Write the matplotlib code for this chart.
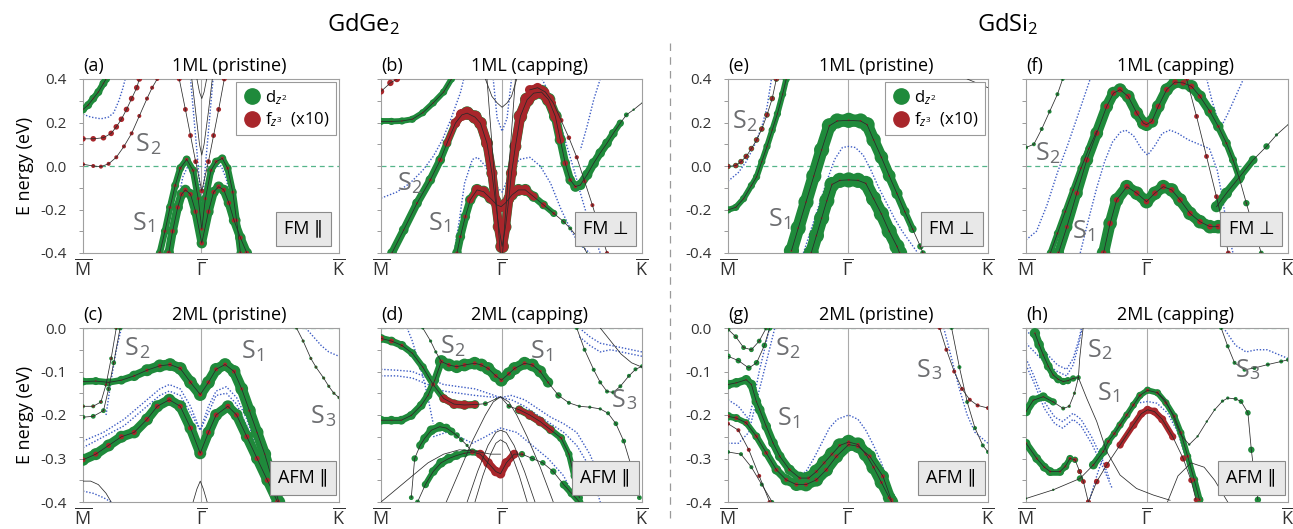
import numpy as np
import matplotlib.pyplot as plt
from matplotlib.lines import Line2D
from matplotlib.collections import LineCollection

plt.rcParams['font.family'] = ['Open Sans', 'DejaVu Sans']
plt.rcParams['mathtext.fontset'] = 'custom'
plt.rcParams['mathtext.rm'] = 'Open Sans'
plt.rcParams['mathtext.it'] = 'Open Sans:italic'
plt.rcParams['mathtext.bf'] = 'Open Sans:bold'

GAMMA = 0.462   # position of Gamma on the M-Gamma-K path (fraction)

# ---- band data: (k, E, d_z2 weight, f_z3 weight) -------------------------
# (a) GdGe2 1ML pristine
A_BANDS = [
    ([0, .02, .04, .06, .08, .09], [.26, .28, .31, .34, .38, .40], .5, .1),
    ([0, .04, .08, .11, .13, .15, .17, .19, .21, .22],
     [.125, .125, .13, .15, .18, .215, .26, .31, .36, .40], 0, .35),
    ([0, .04, .07, .10, .13, .16, .19, .22, .25, .27, .29],
     [.008, 0, -.003, .01, .04, .09, .15, .23, .31, .36, .40], 0, .25),
    ([.376, .40, .42, .44, .464, .49, .51, .53, .552],
     [.40, .26, .14, .02, -.115, .02, .14, .26, .40], 0, .3),
    ([.30, .32, .34, .36, .38, .405, .43, .45, .464, .478, .50, .52, .544, .565, .585, .60, .615],
     [-.40, -.30, -.19, -.09, -.01, .03, -.02, -.15, -.29, -.15, -.02, .02, .035, -.01, -.12, -.25, -.40],
     .5, .2),
    ([.335, .35, .37, .385, .40, .42, .44, .464, .49, .51, .53, .55, .57, .59, .615, .64],
     [-.40, -.30, -.19, -.13, -.11, -.13, -.21, -.355, -.21, -.12, -.095, -.11, -.17, -.25, -.33, -.40],
     .65, .28),
]
A_BLUE = [
    ([0, .03, .07, .10, .12, .14, .155, .165], [.238, .225, .217, .225, .245, .30, .355, .40]),
    ([.42, .435, .45, .464, .478, .493, .508], [.40, .20, 0, -.2, 0, .2, .40]),
    ([.345, .37, .39, .41, .43, .45, .464, .48, .50, .52, .54, .56, .58, .60, .63],
     [-.40, -.17, -.05, 0, -.06, -.2, -.27, -.2, -.06, 0, 0, -.06, -.17, -.28, -.40]),
]
A_BLACK = [
    ([.425, .44, .455, .464, .473, .49, .505], [.40, .25, .10, .05, .10, .25, .40]),
    ([.445, .455, .464, .473, .483], [.40, .34, .31, .34, .40]),
]

# (b) GdGe2 1ML capping
B_BANDS = [
    ([0, .036, .061], [.343, .382, .40], 0, .4),
    ([0, .04, .08, .12, .16, .20, .24, .27], [.205, .205, .207, .215, .245, .29, .34, .40], .45, .1),
    ([.042, .087, .138, .189, .227, .253, .285, .31, .33, .36, .381, .406, .425, .438, .451, .464,
      .477, .49, .50, .515, .534, .56, .585, .615, .642, .668, .687, .706, .725, .745, .764, .79,
      .815, .84, .866, .89, .917, .94, .968, 1.0],
     [-.40, -.294, -.171, -.064, .028, .105, .197, .235, .243, .225, .197, .105, -.033, -.156, -.279, -.37,
      -.28, -.15, -.033, .09, .228, .305, .335, .34, .305, .228, .12, .013, -.064, -.095, -.087, -.04,
      .013, .06, .105, .15, .197, .235, .259, .29],
     [.6, .6, .6, .6, .6, .55, .6, .7, .85, .85, .8, .75, .7, .7, .75, .85, .75, .7, .7, .75,
      .85, .9, .9, .9, .85, .8, .7, .6, .6, .65, .65, .65, .65, .6, .6, .55, .45, .3, .15, .05],
     [.1, .1, .15, .2, .3, .45, .6, .75, .8, .8, .75, .7, .65, .65, .7, .8, .7, .65, .65, .7,
      .8, .85, .85, .8, .75, .65, .5, .35, .25, .2, .1, .05, 0, 0, 0, 0, 0, 0, 0, 0]),
    ([.57, .60, .63, .66, .69, .72, .75, .78, .81, .84, .866],
     [.35, .36, .34, .29, .21, .13, .04, -.07, -.18, -.30, -.40],
     0, [.6, .6, .5, .35, .3, .28, .26, .25, .25, .25, .25]),
    ([.291, .304, .323, .342, .368, .393, .419, .444, .46, .476, .502, .527, .553, .585, .623, .662,
      .70, .725, .751, .776, .789],
     [-.40, -.325, -.233, -.156, -.11, -.118, -.148, -.179, -.187, -.171, -.133, -.11, -.11, -.141,
      -.179, -.218, -.256, -.287, -.325, -.371, -.40],
     [.6, .6, .6, .65, .75, .75, .7, .65, .7, .65, .7, .75, .75, .65, .55, .45, .35, .25, .15, .1, .1],
     [.2, .2, .25, .45, .65, .65, .6, .6, .65, .6, .6, .65, .65, .5, .35, .2, .1, .05, 0, 0, 0]),
]
B_BLUE = [
    ([0, .06, .11, .16, .20, .235, .266, .29, .304, .317],
     [-.148, -.12, -.08, -.02, .044, .12, .21, .29, .336, .40]),
    ([.43, .445, .464, .483, .50], [.40, .22, .16, .22, .40]),
    ([.28, .30, .32, .35, .37, .40, .43, .464, .50, .53, .57, .61, .65, .69, .73, .76, .80],
     [-.40, -.25, -.08, .03, .04, 0, -.08, -.12, -.02, .03, .04, 0, -.08, -.20, -.30, -.36, -.40]),
    ([.617, .65, .68, .71, .74, .77, .80, .84], [.40, .32, .22, .10, -.02, -.15, -.27, -.40]),
    ([.84, .815, .789, .764], [.40, .305, .18, .074]),
]
B_BLACK = [
    ([.40, .425, .445, .464, .483, .50, .52], [.40, .32, .29, .27, .29, .32, .40]),
    ([.406, .457], [.40, -.40]),
    ([.515, .466], [.40, -.40]),
]

# (e) GdSi2 1ML pristine
E_BANDS = [
    ([0, .03, .05, .07, .09, .11, .13, .15, .17, .186],
     [-.002, .002, .02, .044, .08, .12, .17, .235, .31, .40], .35, .3),
    ([0, .03, .06, .09, .11, .13, .15, .17, .19, .21, .224],
     [-.202, -.19, -.15, -.09, -.05, .02, .09, .165, .24, .33, .40], .45, .1),
    ([.244, .27, .30, .33, .36, .39, .42, .464, .51, .535, .56, .59, .62, .65, .68, .71, .74, .75],
     [-.39, -.286, -.166, -.046, .074, .185, .207, .21, .207, .19, .12, .04, -.045, -.127, -.21, -.29, -.37, -.40],
     [.95, .95, .95, .95, .95, .95, .95, .95, .95, .95, .9, .85, .8, .7, .6, .5, .4, .35], .12),
    ([.32, .34, .36, .38, .40, .43, .464, .50, .53, .56, .59, .62, .65, .66],
     [-.40, -.32, -.24, -.16, -.085, -.066, -.064, -.066, -.08, -.15, -.22, -.30, -.37, -.40], .95, .12),
]
E_BLUE = [
    ([0, .04, .07, .10, .13, .15, .167], [-.07, -.03, .02, .09, .18, .27, .40]),
    ([.29, .32, .35, .38, .41, .44, .464, .49, .52, .55, .58, .61, .64, .67, .70, .73],
     [-.40, -.29, -.18, -.07, .03, .085, .09, .085, .05, -.02, -.10, -.17, -.24, -.30, -.35, -.40]),
]
E_BLACK = [
    ([.92, .96, 1.0], [.40, .38, .36]),
]

# (f) GdSi2 1ML capping
F_BANDS = [
    ([0, .03, .06, .09, .12, .14], [.085, .10, .17, .25, .33, .40], .25, .05),
    ([.124, .156, .194, .232, .27, .308, .334, .359, .39, .423, .448, .46, .48, .505, .537, .569, .60,
      .632, .664, .702, .734, .765, .79, .816, .841, .867, .898],
     [-.40, -.28, -.125, .028, .151, .274, .335, .351, .32, .243, .197, .19, .205, .274, .351, .386, .382,
      .366, .32, .251, .182, .105, .028, -.064, -.171, -.279, -.40],
     [.7, .7, .75, .8, .8, .8, .8, .8, .8, .8, .8, .8, .8, .8, .8, .8, .8,
      .8, .75, .7, .65, .55, .5, .45, .4, .35, .3],
     [.2, .25, .3, .35, .35, .35, .35, .35, .35, .35, .35, .35, .35, .35, .35, .35, .35,
      .35, .3, .25, .2, .15, .1, .1, .1, .1, .1]),
    ([.093, .12, .15, .18, .21, .24, .27], [-.40, -.31, -.21, -.11, -.01, .08, .16], .45, .15),
    ([.296, .321, .346, .385, .423, .46, .492, .524, .556, .588, .626, .664, .702, .734],
     [-.40, -.264, -.156, -.095, -.125, -.164, -.125, -.095, -.11, -.156, -.218, -.256, -.279, -.279], .85, .35),
    ([.727, .765, .816, .867, .918, .956, 1.0], [-.187, -.125, -.049, .028, .09, .143, .19],
     [.7, .7, .65, .55, .4, .2, .05], 0),
    ([.613, .651, .689, .727, .753, .772], [.40, .228, .044, -.141, -.279, -.40], 0, .3),
]
F_BLUE = [
    ([0, .04, .08, .12, .16, .20, .245], [-.34, -.30, -.18, -.03, .10, .24, .40]),
    ([.207, .24, .27, .30, .33, .36, .38, .41, .44, .464, .49, .52, .55, .58, .62, .66, .70, .73, .75, .77, .79],
     [-.40, -.24, -.10, .02, .11, .155, .165, .14, .08, .05, .09, .15, .165, .15, .12, .10, .08, -.02, -.15, -.30, -.40]),
    ([.69, .71, .73, .745, .77, .80, .83], [.40, .30, .22, .18, .24, .32, .40]),
]
F_BLACK = []

# (c) GdGe2 2ML pristine
C_BANDS = [
    ([0, .05, .10, .15, .20, .25, .30, .34, .38, .42, .458, .49, .52, .555, .59, .62, .65, .68, .71, .74, .765],
     [-.123, -.122, -.125, -.12, -.11, -.097, -.087, -.084, -.093, -.125, -.153, -.125, -.095, -.084, -.10,
      -.14, -.19, -.24, -.29, -.35, -.40],
     [.5, .5, .5, .55, .65, .75, .8, .8, .8, .8, .8, .8, .8, .8, .8, .8, .8, .8, .8, .8, .8],
     [.1, .1, .1, .1, .15, .2, .25, .25, .25, .25, .25, .25, .25, .25, .25, .2, .15, .1, .1, .1, .1]),
    ([0, .05, .10, .15, .20, .25, .29, .337, .38, .42, .458, .49, .52, .566, .60, .64, .68, .72, .76],
     [-.303, -.29, -.27, -.25, -.24, -.21, -.18, -.165, -.18, -.23, -.288, -.24, -.20, -.18, -.20, -.25,
      -.30, -.35, -.40], .75, .32),
    ([0, .04, .07, .09, .11, .13], [-.18, -.18, -.17, -.13, -.07, 0], .25, .15),
    ([0, .04, .08, .10, .12, .145], [-.205, -.203, -.19, -.14, -.08, 0], .3, .1),
    ([.834, .86, .89, .91, .94, .96, .98, 1.0], [0, -.03, -.07, -.09, -.115, -.134, -.15, -.16], .2, .1),
]
C_BLUE = [
    ([0, .08, .16, .24, .30, .337, .38, .42, .458, .49, .52, .56, .60, .64, .68, .72, .75],
     [-.26, -.24, -.21, -.17, -.14, -.13, -.14, -.18, -.235, -.18, -.145, -.135, -.16, -.21, -.28, -.35, -.40]),
    ([0, .08, .16, .24, .30, .337, .38, .42, .458, .49, .52, .56, .60, .64, .68, .72, .74],
     [-.275, -.25, -.225, -.185, -.155, -.145, -.155, -.195, -.235, -.195, -.155, -.15, -.175, -.225, -.29, -.36, -.40]),
    ([.09, .11, .13, .15], [-.2, -.12, -.05, 0]),
    ([0, .04, .08, .11], [-.375, -.38, -.39, -.40]),
    ([.87, .90, .93, .96, 1.0], [0, -.02, -.04, -.055, -.065]),
]
C_BLACK = [
    ([0, .03, .06, .09, .11], [-.352, -.352, -.36, -.38, -.40]),
    ([.43, .445, .458, .47, .485], [-.40, -.37, -.352, -.37, -.40]),
]

# (d) GdGe2 2ML capping
D_BANDS = [
    ([0, .04, .08, .12, .16, .20, .24, .28, .32, .36, .40, .44, .458, .49, .53, .57, .61, .65, .69, .72, .74, .76],
     [-.024, -.03, -.04, -.058, -.09, -.13, -.162, -.175, -.177, -.176, -.174, -.163, -.158, -.18, -.188,
      -.20, -.215, -.234, -.253, -.29, -.34, -.39],
     [.55, .55, .55, .5, .5, .5, .55, .6, .6, .55, .3, .1, .05, .3, .55, .6, .6, .55, .5, .45, .45, .45],
     [.35, .3, .2, .1, .1, .25, .5, .55, .55, .45, .1, 0, 0, .1, .45, .55, .55, .45, .2, .1, 0, 0]),
    ([.231, .26, .29, .32, .359, .385, .41, .44, .461, .49, .512, .55, .58, .61, .64, .68, .72, .76, .80,
      .84, .87, .90, .93, .96, .99],
     [-.077, -.085, -.089, -.085, -.081, -.085, -.093, -.11, -.12, -.105, -.093, -.081, -.085, -.10, -.125,
      -.155, -.172, -.18, -.182, -.186, -.196, -.22, -.26, -.32, -.39],
     [.8, .8, .8, .8, .8, .8, .8, .8, .8, .8, .8, .8, .8, .75, .65, .4, .25, .2, .2, .2, .25, .3, .3, .3, .3],
     [.25, .25, .25, .25, .25, .25, .25, .25, .25, .25, .25, .25, .25, .2, .15, .1, 0, 0, 0, 0, 0, 0, 0, 0, 0]),
    ([.16, .19, .21, .231], [0, -.03, -.055, -.077], .2, 0),
    ([0, .04, .078, .116, .154, .18, .206, .231], [-.212, -.212, -.212, -.201, -.178, -.155, -.12, -.077], .55, .1),
    ([.116, .129, .15, .167, .193, .225, .25, .27, .29, .308, .33, .346],
     [-.39, -.30, -.27, -.254, -.235, -.227, -.23, -.238, -.247, -.257, -.27, -.284],
     [.3, .4, .5, .55, .6, .6, .55, .5, .4, .3, .2, .1], .05),
    ([.14, .17, .20, .23, .26, .29, .32, .35, .38, .41, .44, .458, .48, .51, .54, .58, .62, .66, .70, .73, .76],
     [-.40, -.36, -.33, -.31, -.30, -.293, -.288, -.285, -.29, -.31, -.33, -.335, -.31, -.29, -.29, -.30,
      -.31, -.33, -.36, -.38, -.40],
     [.3, .45, .55, .6, .6, .55, .5, .45, .45, .5, .5, .5, .5, .45, .4, .35, .35, .4, .5, .5, .5],
     [0, 0, 0, .05, .05, .05, .1, .3, .55, .6, .6, .6, .6, .55, .2, .05, 0, 0, 0, 0, 0]),
    ([.75, .78, .815, .84, .866, .89, .917, .95, .975, 1.0],
     [0, -.05, -.096, -.125, -.146, -.148, -.134, -.11, -.095, -.088], .25, 0),
]
D_BLUE = [
    ([0, .06, .12, .18, .24, .30, .36, .41, .458, .50, .55, .60, .65, .70, .75, .80, .85],
     [-.095, -.097, -.10, -.115, -.13, -.135, -.14, -.15, -.16, -.155, -.165, -.185, -.205, -.22, -.24, -.29, -.36]),
    ([0, .06, .12, .18, .24, .30, .36, .41, .458, .50, .55, .60, .65, .70, .75, .80, .84],
     [-.11, -.11, -.115, -.13, -.145, -.15, -.155, -.158, -.16, -.165, -.18, -.20, -.22, -.24, -.27, -.32, -.40]),
    ([.20, .25, .30, .35, .40, .458, .52, .58, .64, .70, .75],
     [-.25, -.24, -.25, -.265, -.25, -.23, -.24, -.27, -.30, -.34, -.40]),
    ([.10, .12, .14, .16, .18, .20], [0, -.03, -.07, -.11, -.16, -.22]),
    ([.76, .80, .84, .88, .92, .96, 1.0], [0, -.02, -.035, -.04, -.045, -.05, -.055]),
    ([.76, .80, .84, .88, .92, .96, 1.0], [-.02, -.04, -.055, -.05, -.055, -.06, -.065]),
]
D_BLACK = [
    ([.25, .30, .35, .40, .43, .458, .49, .52, .56, .61, .66],
     [-.40, -.33, -.26, -.20, -.17, -.158, -.17, -.20, -.25, -.32, -.40]),
    ([.33, .37, .41, .44, .458, .48, .51, .55, .59], [-.40, -.33, -.27, -.24, -.235, -.24, -.27, -.33, -.40]),
    ([.36, .39, .42, .44, .458, .48, .50, .53, .56], [-.40, -.34, -.29, -.265, -.257, -.265, -.29, -.34, -.40]),
    ([0, .06, .12, .18, .24, .30, .36, .42, .458], [-.40, -.37, -.34, -.31, -.29, -.28, -.283, -.29, -.29]),
    ([.84, .88, .92, .96, 1.0], [0, -.03, -.06, -.08, -.09]),
]

# (g) GdSi2 2ML pristine
G_BANDS = [
    ([0, .03, .06, .09, .12, .147], [-.003, -.02, -.045, -.05, -.03, 0], .3, .1),
    ([0, .04, .08, .11, .14, .16], [-.065, -.075, -.092, -.08, -.04, 0], .35, .05),
    ([0, .032, .07, .09, .109, .122, .147, .173, .199, .237, .276, .31, .34, .37, .40, .43, .464, .50,
      .53, .56, .59, .62, .63],
     [-.13, -.126, -.119, -.13, -.169, -.188, -.226, -.264, -.295, -.326, -.345, -.345, -.33, -.31, -.29,
      -.27, -.262, -.268, -.29, -.32, -.355, -.39, -.40],
     [.6, .6, .6, .6, .6, .6, .6, .6, .6, .65, .8, .85, .9, .9, .9, .9, .9, .9, .9, .9, .85, .8, .8],
     [.1, .1, .1, .1, .1, .1, .1, .1, .15, .2, .2, .2, .2, .2, .2, .2, .2, .2, .2, .2, .2, .2, .2]),
    ([0, .032, .07, .109, .147, .186, .224, .263, .30, .34, .378, .417, .464, .50, .545, .596, .628],
     [-.203, -.207, -.218, -.249, -.287, -.326, -.349, -.36, -.36, -.349, -.326, -.295, -.268, -.272,
      -.295, -.341, -.395],
     [.55, .5, .45, .5, .55, .6, .7, .8, .85, .85, .85, .85, .85, .85, .8, .75, .7], .25),
    ([0, .04, .08, .12, .16], [-.22, -.235, -.28, -.34, -.40], .1, .25),
    ([0, .05, .09, .13, .17], [-.285, -.29, -.32, -.36, -.40], .25, 0),
    ([.814, .84, .87, .90, .93, .96, 1.0], [0, -.05, -.10, -.14, -.165, -.178, -.184], .1, .25),
    ([.86, .89, .92, .95, .98, 1.0], [0, -.09, -.17, -.23, -.27, -.285], .25, 0),
]
G_BLUE = [
    ([0, .04, .08, .10, .12, .14, .16], [-.165, -.18, -.21, -.16, -.10, -.05, 0]),
    ([0, .04, .08, .10, .13, .155, .18], [-.265, -.265, -.24, -.19, -.12, -.06, 0]),
    ([.27, .30, .33, .36, .39, .42, .464, .50, .53, .56, .59, .62, .65],
     [-.34, -.33, -.30, -.265, -.23, -.21, -.20, -.21, -.235, -.27, -.31, -.36, -.40]),
    ([.83, .86, .89, .92, .95, 1.0], [0, -.07, -.14, -.20, -.24, -.265]),
]
G_BLACK = []

# (h) GdSi2 2ML capping
H_BANDS = [
    ([.034, .05, .066, .085, .104, .123, .142, .16, .18, .20],
     [-.012, -.038, -.062, -.088, -.108, -.118, -.123, -.121, -.116, -.114],
     [.65, .6, .55, .55, .5, .5, .45, .45, .4, .3], .1),
    ([0, .028, .066, .104, .142, .165, .185, .20],
     [-.192, -.166, -.158, -.17, -.185, -.18, -.15, -.114], [.6, .6, .55, .45, .25, .2, .2, .2], .1),
    ([0, .041, .07, .092, .13, .15, .168, .187, .205, .219, .238],
     [-.265, -.30, -.32, -.33, -.33, -.318, -.30, -.303, -.33, -.353, -.40],
     [.55, .55, .55, .55, .5, .5, .45, .4, .3, .25, .25], [.15, .15, .15, .15, .15, .15, .2, .25, .3, .3, .3]),
    ([0, .104, .206, .257, .295, .314, .337, .359, .385, .41, .435, .464, .502, .534, .566, .591, .617, .642, .662],
     [-.392, -.372, -.346, -.315, -.284, -.261, -.243, -.223, -.2, -.177, -.155, -.143, -.149, -.172, -.203,
      -.241, -.295, -.349, -.395],
     [.15, .15, .4, .55, .55, .5, .45, .45, .45, .45, .45, .45, .45, .45, .45, .45, .45, .5, .5],
     [.05, .05, .1, .15, .15, .2, .2, .2, .2, .2, .2, .2, .2, .2, .2, .2, .2, .2, .2]),
    ([.238, .27, .308, .359, .41, .44, .464, .49, .52, .56, .60, .63, .649],
     [-.40, -.353, -.315, -.269, -.223, -.197, -.188, -.192, -.21, -.25, -.30, -.35, -.395],
     .1, [.3, .35, .4, .45, .5, .5, .5, .5, .5, .45, .4, .35, .3]),
    ([.50, .53, .56, .59, .623, .655, .69, .72, .75, .77, .80, .821, .847, .86, .872, .885],
     [-.148, -.165, -.20, -.245, -.268, -.249, -.215, -.188, -.168, -.161, -.163, -.169, -.195, -.28, -.34, -.395],
     [.1, .1, .1, .1, .15, .15, .15, .15, .2, .2, .25, .3, .35, .4, .4, .4], 0),
    ([.745, .77, .796, .834, .872, .923, .974, 1.0], [0, -.042, -.08, -.096, -.092, -.084, -.077, -.073], .25, 0),
]
H_BLUE = [
    ([0, .04, .08, .12, .155, .18, .20, .212], [-.005, -.03, -.06, -.085, -.095, -.07, -.03, 0]),
    ([0, .04, .08, .12, .155, .18, .20, .215], [-.035, -.06, -.085, -.10, -.11, -.085, -.04, 0]),
    ([0, .03, .07, .11, .14, .18, .21, .25, .29, .32], [-.07, -.11, -.17, -.205, -.215, -.196, -.21, -.25, -.30, -.35]),
    ([0, .03, .07, .11, .14, .18, .21, .25, .29, .33], [-.085, -.125, -.185, -.22, -.23, -.21, -.225, -.265, -.315, -.37]),
    ([.24, .27, .30, .34, .38, .42, .464, .50, .54, .58, .61, .64, .655],
     [-.40, -.34, -.285, -.235, -.195, -.173, -.169, -.173, -.195, -.24, -.30, -.36, -.40]),
    ([.76, .80, .84, .88, .92, .96, 1.0], [-.005, -.04, -.055, -.05, -.05, -.06, -.07]),
]
H_BLACK = [
    ([.20, .232, .27, .308, .359, .422, .486, .55], [-.114, -.162, -.215, -.284, -.338, -.369, -.384, -.396]),
    ([.20, .205, .212, .218], [-.114, -.07, -.03, 0]),
    ([.54, .58, .63, .68, .72, .77], [-.40, -.34, -.31, -.32, -.35, -.40]),
]

# ---- panel text ------------------------------------------------------------
LETTERS = ['a', 'b', 'e', 'f', 'c', 'd', 'g', 'h']
TITLES = ['1ML (pristine)', '1ML (capping)', '1ML (pristine)', '1ML (capping)',
          '2ML (pristine)', '2ML (capping)', '2ML (pristine)', '2ML (capping)']
MAGNETISM = ['FM \u2225', 'FM \u22a5', 'FM \u22a5', 'FM \u22a5',
             'AFM \u2225', 'AFM \u2225', 'AFM \u2225', 'AFM \u2225']
PANELS = [(A_BANDS, A_BLUE, A_BLACK), (B_BANDS, B_BLUE, B_BLACK),
          (E_BANDS, E_BLUE, E_BLACK), (F_BANDS, F_BLUE, F_BLACK),
          (C_BANDS, C_BLUE, C_BLACK), (D_BANDS, D_BLUE, D_BLACK),
          (G_BANDS, G_BLUE, G_BLACK), (H_BANDS, H_BLUE, H_BLACK)]
# surface-state labels: (index, k, E)
S_LABELS = [
    [('2', .25, .097), ('1', .237, -.263)],
    [('2', .105, -.08), ('1', .226, -.263)],
    [('2', .059, .204), ('1', .20, -.248)],
    [('2', .079, .058), ('1', .219, -.302)],
    [('2', .207, -.047), ('1', .664, -.054), ('3', .934, -.204)],
    [('2', .271, -.043), ('1', .616, -.054), ('3', .928, -.166)],
    [('2', .226, -.047), ('1', .232, -.208), ('3', .77, -.097)],
    [('2', .276, -.051), ('1', .314, -.15), ('3', .842, -.097)],
]

GREEN = '#1f8a3b'
RED = '#a8262b'
BLUE = '#3d5cc4'
GREY_TXT = '#6d6e71'
SCALE = 11.5   # marker diameter (pt) for weight 1

W, H = 1293, 529
COL_X = [83, 381, 728, 1026]
COL_W = [256, 261, 260, 262]
ROW_Y = [79, 328]
AX_H = 174

fig = plt.figure(figsize=(W / 100, H / 100), dpi=100)


def tube(ax, k, e, w, color, z):
    # fat segments between neighbouring k-points, so heavy weights read as a band
    pts = np.column_stack([k, e])
    seg = np.stack([pts[:-1], pts[1:]], axis=1)
    wmin = np.minimum(w[:-1], w[1:])
    keep = wmin >= 0.45
    if keep.any():
        lc = LineCollection(seg[keep], linewidths=SCALE * wmin[keep] * 0.82, colors=color,
                            capstyle='round', joinstyle='round', zorder=z)
        ax.add_collection(lc)


def draw_band(ax, k, e, wd, wf):
    k = np.asarray(k, float)
    e = np.asarray(e, float)
    wd = np.broadcast_to(np.asarray(wd, float), k.shape)
    wf = np.broadcast_to(np.asarray(wf, float), k.shape)
    if wd.max() > 0:
        ax.scatter(k, e, s=(SCALE * wd) ** 2, color=GREEN, lw=0, zorder=3)
        tube(ax, k, e, wd, GREEN, 3)
    if wf.max() > 0:
        ax.scatter(k, e, s=(SCALE * wf) ** 2, color=RED, lw=0, zorder=4)
        tube(ax, k, e, wf, RED, 4)
    ax.plot(k, e, color='#2a2a2a', lw=0.55, zorder=5)


for i, (bands, blue, black) in enumerate(PANELS):
    r, c = divmod(i, 4)
    ax = fig.add_axes([COL_X[c] / W, 1 - (ROW_Y[r] + AX_H) / H, COL_W[c] / W, AX_H / H])
    ax.set_xlim(0, 1)
    if r == 0:
        ax.set_ylim(-0.4, 0.4)
        ax.set_yticks([-0.4, -0.2, 0.0, 0.2, 0.4])
        ax.set_yticks(np.arange(-0.4, 0.41, 0.1), minor=True)
    else:
        ax.set_ylim(-0.4, 0.0)
        ax.set_yticks([-0.4, -0.3, -0.2, -0.1, 0.0])
        ax.set_yticks(np.arange(-0.4, 0.01, 0.05), minor=True)
    ax.yaxis.set_major_formatter(plt.FuncFormatter(lambda v, p: f'{v:.1f}'.replace('-0.0', '0.0')))
    ax.set_xticks([0, GAMMA, 1])
    ax.set_xticklabels([r'$\overline{\mathrm{M}}$', r'$\overline{\mathrm{\Gamma}}$',
                        r'$\overline{\mathrm{K}}$'], fontsize=13, color='#333333')
    ax.tick_params(axis='x', length=0, pad=4)
    ax.tick_params(axis='y', which='both', direction='out', length=3, width=0.7,
                   color='#999999', labelsize=11, labelcolor='#333333', pad=9)
    if c in (1, 3):
        ax.tick_params(axis='y', labelleft=False)
    for sp in ax.spines.values():
        sp.set_color('#a0a0a0')
        sp.set_linewidth(0.8)

    ax.axvline(GAMMA, color='#aaaaaa', lw=0.8, zorder=1)
    ax.axhline(0.0, color='#55b58a', lw=0.9, ls=(0, (4, 3)), zorder=1)

    for k, e in blue:
        ax.plot(k, e, color=BLUE, lw=1.0, ls=(0, (1, 1.3)), zorder=2)
    for k, e in black:
        ax.plot(k, e, color='#2a2a2a', lw=0.55, zorder=5)
    for k, e, wd, wf in bands:
        draw_band(ax, k, e, wd, wf)

    ax.text(0.0, 1.025, f'({LETTERS[i]})', transform=ax.transAxes, ha='left', va='bottom', fontsize=13)
    ax.text(0.57, 1.025, TITLES[i], transform=ax.transAxes, ha='center', va='bottom', fontsize=13)
    ax.text(0.86, 0.14, MAGNETISM[i], transform=ax.transAxes, ha='center', va='center', fontsize=13,
            bbox=dict(boxstyle='square,pad=0.45', fc='#e8e8e8', ec='#8a8a8a', lw=0.8), zorder=10)
    for num, k, e in S_LABELS[i]:
        ax.annotate('S', (k, e), xytext=(2, 0), textcoords='offset points', ha='right', va='center',
                    fontsize=18, color=GREY_TXT, zorder=9)
        ax.annotate(num, (k, e), xytext=(2, -3), textcoords='offset points', ha='left', va='center',
                    fontsize=13, color=GREY_TXT, zorder=9)

    if c == 0:
        ax.set_ylabel('E nergy (eV)', fontsize=13, labelpad=4)
    if i in (0, 2):
        hd = Line2D([], [], ls='none', marker='o', ms=11, color=GREEN)
        hf = Line2D([], [], ls='none', marker='o', ms=11, color=RED)
        leg = ax.legend([hd, hf], [r'd$_{z^2}$', r'f$_{z^3}$  (x10)'], loc='upper right', fontsize=12,
                        fancybox=False, edgecolor='#999999', framealpha=1, borderaxespad=0.2,
                        handletextpad=0.2, labelspacing=0.25, borderpad=0.35, handlelength=1.2)
        leg.get_frame().set_linewidth(0.8)
        leg.set_zorder(12)

fig.text(363 / W, 1 - 24 / H, 'GdGe$_2$', ha='center', va='center', fontsize=17)
fig.text(1008 / W, 1 - 24 / H, 'GdSi$_2$', ha='center', va='center', fontsize=17)
fig.add_artist(Line2D([670 / W, 670 / W], [0.02, 0.93], transform=fig.transFigure,
                      color='#9a9a9a', lw=0.9, ls=(0, (6, 5))))

fig.savefig('out.png', dpi=100)
